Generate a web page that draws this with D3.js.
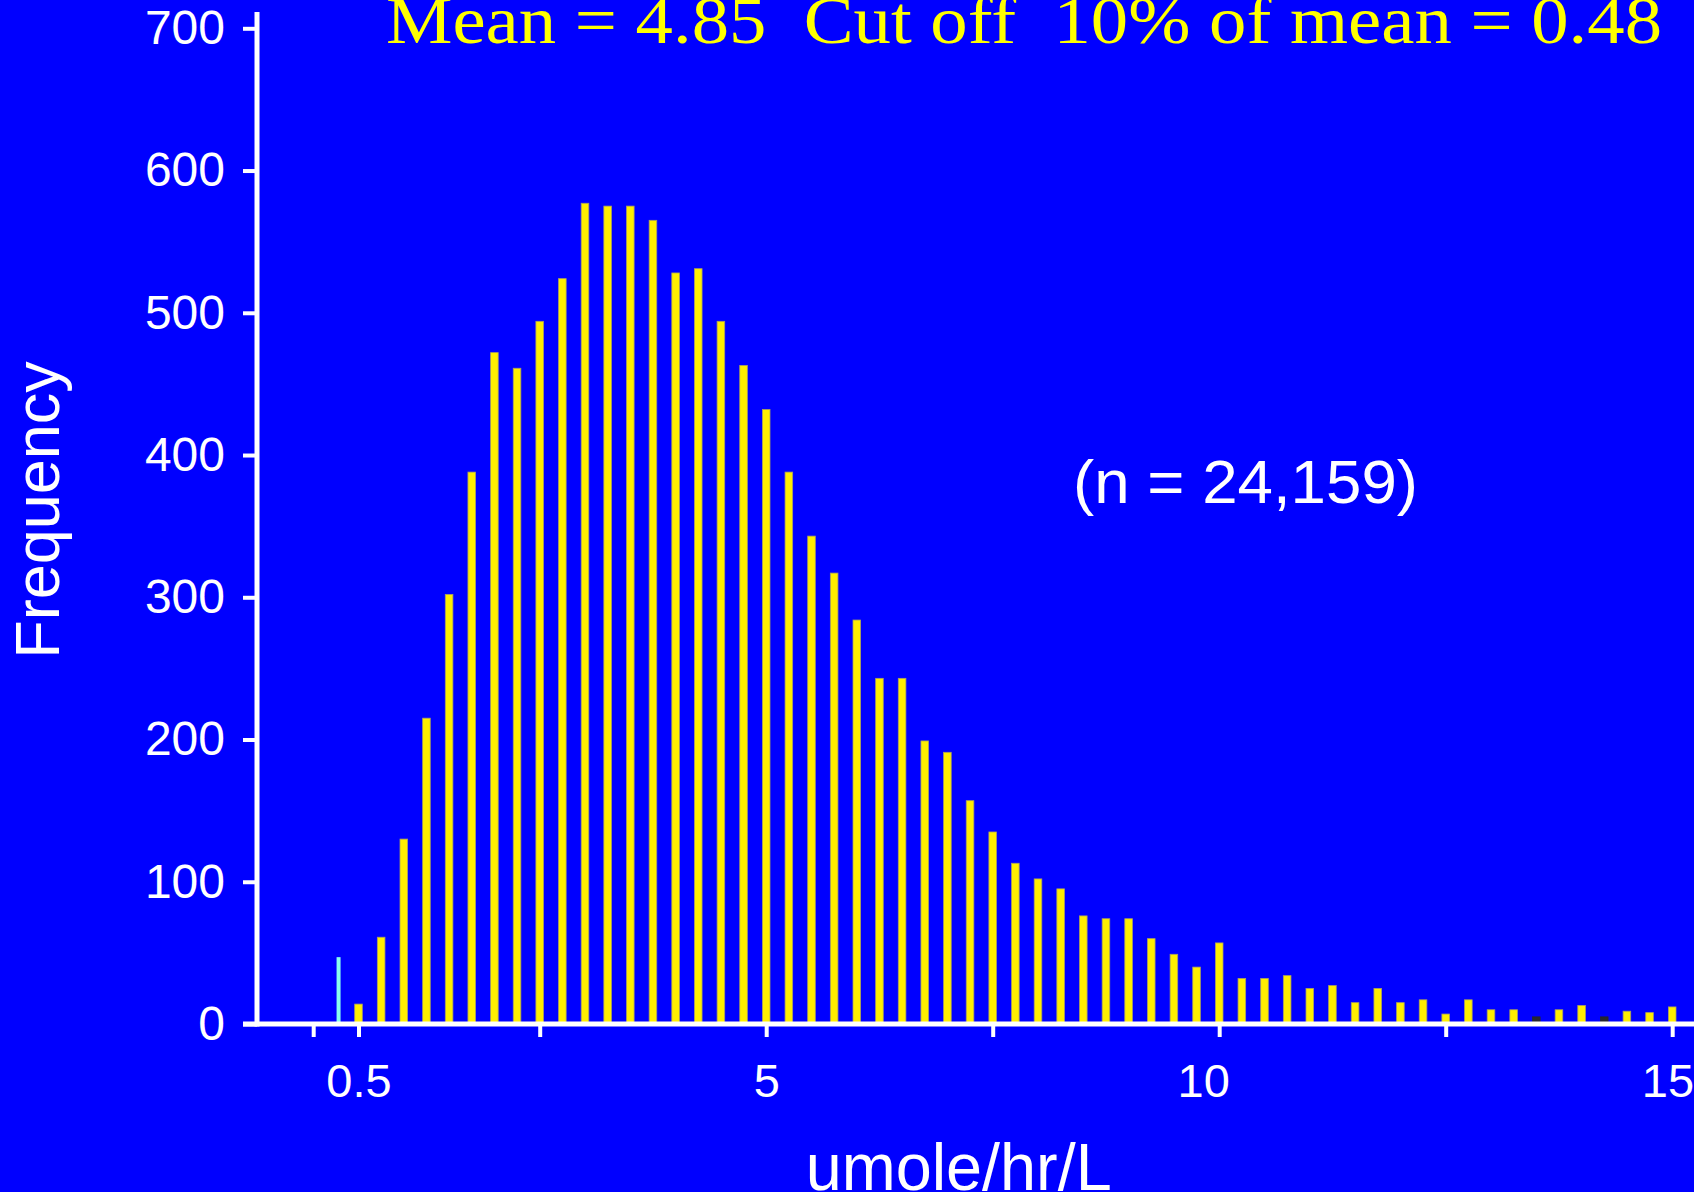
<!DOCTYPE html>
<html>
<head>
<meta charset="utf-8">
<script src="https://cdn.jsdelivr.net/npm/d3@7"></script>
<style>
  html, body { margin: 0; padding: 0; background: #0000ff; }
  svg { display: block; }
</style>
</head>
<body>
<script>
// Histogram bins (bin centre, umole/hr/L) and their frequencies
const binCentres = [
  0.5, 0.75, 1, 1.25, 1.5, 1.75, 2, 2.25, 2.5, 2.75,
  3, 3.25, 3.5, 3.75, 4, 4.25, 4.5, 4.75, 5, 5.25,
  5.5, 5.75, 6, 6.25, 6.5, 6.75, 7, 7.25, 7.5, 7.75,
  8, 8.25, 8.5, 8.75, 9, 9.25, 9.5, 9.75, 10, 10.25,
  10.5, 10.75, 11, 11.25, 11.5, 11.75, 12, 12.25, 12.5, 12.75,
  13, 13.25, 13.5, 13.75, 14, 14.25, 14.5, 14.75, 15
];
const frequencies = [
  14, 61, 130, 215, 302, 388, 472, 461, 494, 524,
  577, 575, 575, 565, 528, 531, 494, 463, 432, 388,
  343, 317, 284, 243, 243, 199, 191, 157, 135, 113,
  102, 95, 76, 74, 74, 60, 49, 40, 57, 32,
  32, 34, 25, 27, 15, 25, 15, 17, 7, 17,
  10, 10, 5, 10, 13, 5, 9, 8, 12
];
// bins flagged separately in the source output
const flaggedBins = [13.5, 14.25];

// count below the cut-off, drawn as its own marker
const cutoffMarkerX = [0.28];
const cutoffMarkerN = [47];

// axis ticks and labels
const yTicks = [0, 100, 200, 300, 400, 500, 600, 700];
const xTicks = [0, 0.5, 2.5, 5, 7.5, 10, 12.5, 15];
const xTickLabels = ["", "0.5", "", "5", "", "10", "", "15"];

const titleText = "Mean = 4.85  Cut off  10% of mean = 0.48";
const sampleText = "(n = 24,159)";
const xTitle = "umole/hr/L";
const yTitle = "Frequency";

// ---- layout ----
const W = 1694, H = 1192;
const axisX = 257;          // vertical axis position
const axisTop = 12;
const sans = "'Liberation Sans', Arial, Helvetica, sans-serif";
const serif = "'Liberation Serif', 'Times New Roman', serif";
// horizontal nudge of each x tick label (em)
const xLabelShift = [0, 0, 0, 0, 0, -0.34, 0, -0.1];

const x = d3.scaleLinear().domain([0, 15]).range([313.2, 1672.2]);
const y = d3.scaleLinear().domain([0, 700]).range([1024, 28.3]);

const svg = d3.select("body").append("svg")
  .attr("width", W).attr("height", H);

svg.append("rect").attr("width", W).attr("height", H).attr("fill", "#0000ff");

const bins = binCentres.map((c, i) => ({ c, n: frequencies[i], flagged: flaggedBins.includes(c) }));

// bars
const barW = 7.6;
svg.append("g").selectAll("rect").data(bins).join("rect")
  .attr("x", d => x(d.c) - barW / 2)
  .attr("y", d => y(d.n))
  .attr("width", barW)
  .attr("height", d => y(0) - y(d.n))
  .attr("fill", d => d.flagged ? "#262630" : "#ffee00")
  .attr("stroke", d => d.flagged ? "#262630" : "#a8a060")
  .attr("stroke-width", 0.8);

// cut-off marker
svg.append("g").selectAll("rect").data(cutoffMarkerX.map((v, i) => ({ v, n: cutoffMarkerN[i] }))).join("rect")
  .attr("x", d => x(d.v) - 2)
  .attr("y", d => y(d.n))
  .attr("width", 4)
  .attr("height", d => y(0) - y(d.n))
  .attr("fill", "#88ffee");

// y axis
const yAxis = d3.axisLeft(y).tickValues(yTicks).tickSize(14).tickPadding(18).tickSizeOuter(0);
const gy = svg.append("g").attr("transform", `translate(${axisX},0)`).call(yAxis);
gy.select(".domain").remove();
gy.selectAll(".tick line").attr("stroke", "#fff").attr("stroke-width", 4);
gy.selectAll(".tick text").attr("fill", "#fff").attr("font-family", sans).attr("font-size", 48);

// x axis
const xAxis = d3.axisBottom(x).tickValues(xTicks).tickSize(13).tickPadding(27)
  .tickFormat((d, i) => xTickLabels[i]).tickSizeOuter(0);
const gx = svg.append("g").attr("transform", `translate(0,${y(0)})`).call(xAxis);
gx.select(".domain").remove();
gx.selectAll(".tick line").attr("stroke", "#fff").attr("stroke-width", 4);
gx.selectAll(".tick text").attr("fill", "#fff").attr("font-family", sans).attr("font-size", 47)
  .attr("dx", (d, i) => xLabelShift[i] + "em");

// axis lines
svg.append("line")
  .attr("x1", axisX).attr("x2", axisX)
  .attr("y1", axisTop).attr("y2", y(0) + 2.5)
  .attr("stroke", "#fff").attr("stroke-width", 5);
svg.append("line")
  .attr("x1", axisX - 14).attr("x2", W)
  .attr("y1", y(0)).attr("y2", y(0))
  .attr("stroke", "#fff").attr("stroke-width", 5);

// title
svg.append("text")
  .attr("x", 386).attr("y", 43)
  .attr("font-family", serif).attr("font-size", 68)
  .attr("textLength", 1276).attr("lengthAdjust", "spacingAndGlyphs")
  .attr("fill", "#ffff00")
  .style("white-space", "pre")
  .text(titleText);

// sample size
svg.append("text")
  .attr("x", 1073).attr("y", 503)
  .attr("font-family", sans).attr("font-size", 61)
  .attr("textLength", 345).attr("lengthAdjust", "spacingAndGlyphs")
  .attr("fill", "#fff")
  .text(sampleText);

// axis titles
svg.append("text")
  .attr("transform", "translate(59,510) rotate(-90)")
  .attr("text-anchor", "middle")
  .attr("font-family", sans).attr("font-size", 63)
  .attr("fill", "#fff")
  .text(yTitle);

svg.append("text")
  .attr("x", 958.7).attr("y", 1190)
  .attr("text-anchor", "middle")
  .attr("font-family", sans).attr("font-size", 67)
  .attr("textLength", 306).attr("lengthAdjust", "spacingAndGlyphs")
  .attr("fill", "#fff")
  .text(xTitle);
</script>
</body>
</html>
